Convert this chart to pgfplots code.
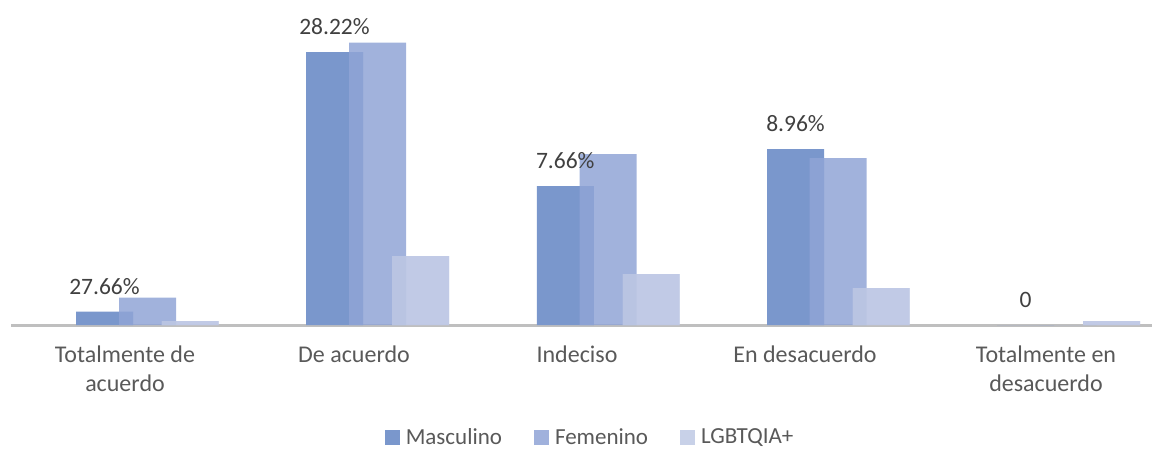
\documentclass[border=0pt]{standalone}
\usepackage{pgfplots}
\pgfplotsset{compat=1.18}
\usepackage{fontspec}
\setmainfont{Carlito}
\definecolor{masc}{HTML}{7A97CC}
\definecolor{fem}{HTML}{90A4D6}
\definecolor{lgbt}{HTML}{BFC9E5}
\definecolor{axisgray}{HTML}{BFBFBF}
\definecolor{labgray}{HTML}{595959}
\definecolor{datgray}{HTML}{404040}
\begin{document}
\begin{tikzpicture}
\useasboundingbox (0,0) rectangle (1152pt,448pt);
\begin{axis}[
  at={(11pt,123pt)}, anchor=south west,
  scale only axis, width=1141pt, height=325pt,
  xmin=11, xmax=1152, ymin=0, ymax=325,
  enlargelimits=false, clip=false,
  axis x line*=bottom, axis y line=none,
  x axis line style={draw=axisgray, line width=3pt, -},
  xtick={125,354,577,805,1046},
  xticklabels={{Totalmente de\\acuerdo},{De acuerdo},{Indeciso},{En desacuerdo},{Totalmente en\\desacuerdo}},
  major tick length=0pt,
  xticklabel style={anchor=north, inner sep=0pt, yshift=-21pt, align=center, text=labgray, font=\fontsize{24}{29}\selectfont},
  ybar, bar width=57, bar shift=0pt,
  legend style={at={(0.5075,-0.345)}, anchor=center, draw=none, legend columns=3,
    font=\fontsize{23}{26}\selectfont, text=labgray, inner sep=1pt,
    nodes={inner ysep=1pt},
    /tikz/every odd column/.append style={column sep=4pt},
    /tikz/every even column/.append style={column sep=30pt}},
  legend image code/.code={\fill[#1] (0pt,-7.5pt) rectangle (15pt,7.5pt);},
]
\addplot[fill=lgbt, draw=none, fill opacity=0.85, forget plot] table[x=x,y=y] {
x y
190 4
420.5 69
651 51
881 37
1111.5 4
};
\addplot[fill=masc, draw=none,
  nodes near coords, point meta=explicit symbolic,
  every node near coord/.append style={inner sep=0pt, yshift=17pt, text=datgray, font=\fontsize{23.5}{28}\selectfont, fill opacity=1, text opacity=1}]
  table[x=x,y=y,meta=label] {
x y label
104.5 13.3 {27.66\%}
334.5 273 {28.22\%}
565.3 139 {7.66\%}
795.5 176 {8.96\%}
1025.5 0 {0}
};
\addplot[fill=fem, draw=none, fill opacity=0.85] table[x=x,y=y] {
x y
147.5 27.3
377.5 282.3
608 171
838 167
1068 0
};
\addplot[fill=lgbt, draw=none, fill opacity=0.85] table[x=x,y=y] {
x y
190 4
420.5 69
651 51
881 37
1111.5 4
};
\legend{Masculino, Femenino, LGBTQIA+}
\end{axis}
\end{tikzpicture}
\end{document}
